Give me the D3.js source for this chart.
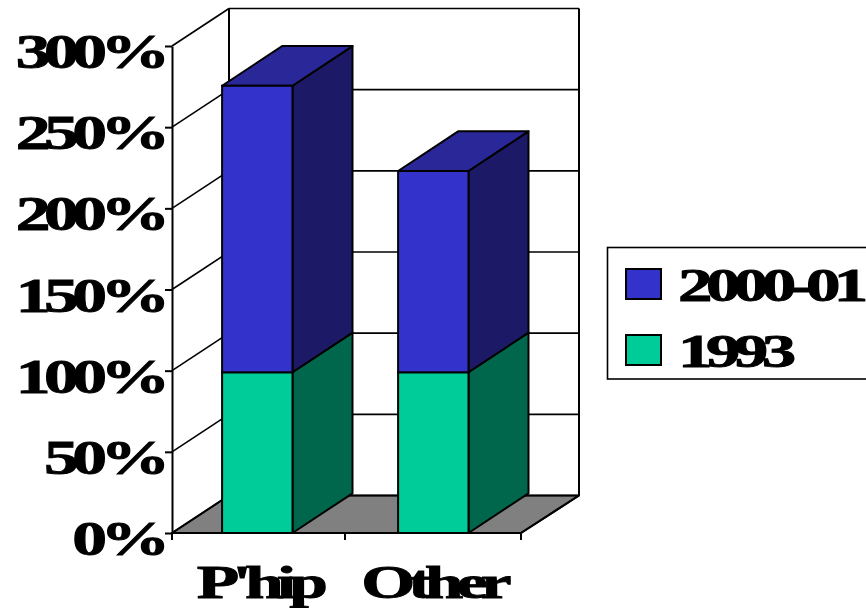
<!DOCTYPE html>
<html>
<head>
<meta charset="utf-8">
<script src="https://cdn.jsdelivr.net/npm/d3@7"></script>
<style>
html,body{margin:0;padding:0;background:#fff;overflow:hidden}
svg{display:block}
text{font-family:"Liberation Serif",serif;font-weight:bold;fill:#000;stroke:#000;stroke-width:.9px}
</style>
</head>
<body>
<svg id="chart" width="866" height="608"></svg>
<script>
const categories = ["P'hip", "Other"];
const seriesNames = ["1993", "2000-01"];
const values1993 = [99, 99];
const values2000 = [176.5, 124];
const yTicks = [0, 50, 100, 150, 200, 250, 300];
const legendOrder = ["2000-01", "1993"];

const faceColors = {"1993": "#00cc99", "2000-01": "#3333cc"};
const sideColors = {"1993": "#00664c", "2000-01": "#1c1a66"};
const topColors = {"1993": "#00a67c", "2000-01": "#2a2899"};

const svg = d3.select("#chart");
const y = d3.scaleLinear().domain([0, 300]).range([533, 46]);
const x = d3.scaleBand().domain(categories).range([169.5, 521.5]).paddingInner(0.6).paddingOuter(0.3);

// Depth of the plot box and of the bars, in screen pixels
const wallDx = 57, wallDy = -37.5, barDx = 60, barDy = -39.7;
const x0 = 172, x1 = 521;
const poly = pts => pts.map(p => p.join(",")).join(" ");
const stroke = {stroke: "#000", "stroke-width": 2};
const applyAttrs = (sel, attrs) => { Object.entries(attrs).forEach(([k, v]) => sel.attr(k, v)); return sel; };

// Floor
applyAttrs(svg.append("polygon").attr("points", poly([
  [x0, y(0)], [x0 + wallDx, y(0) + wallDy], [x1 + wallDx + 1, y(0) + wallDy], [x1, y(0)]
])).attr("fill", "#808080"), stroke).attr("stroke-linejoin", "round");

// Back wall with its gridlines, and the matching lines across the left wall
const walls = svg.append("g").attr("fill", "none");
yTicks.forEach(t => {
  applyAttrs(walls.append("line").attr("x1", x0 + wallDx).attr("x2", x1 + wallDx + 1)
    .attr("y1", y(t) + wallDy).attr("y2", y(t) + wallDy), stroke).attr("stroke-width", 1.6);
  applyAttrs(walls.append("line").attr("x1", x0).attr("x2", x0 + wallDx)
    .attr("y1", y(t)).attr("y2", y(t) + wallDy), stroke).attr("stroke-width", 1.6);
});
applyAttrs(walls.append("line").attr("x1", x0 + wallDx).attr("x2", x0 + wallDx)
  .attr("y1", y(300) + wallDy).attr("y2", y(0) + wallDy), stroke);
applyAttrs(walls.append("line").attr("x1", x1 + wallDx + 1).attr("x2", x1 + wallDx + 1)
  .attr("y1", y(300) + wallDy).attr("y2", y(0) + wallDy), stroke);
applyAttrs(walls.append("line").attr("x1", x1).attr("x2", x1 + wallDx + 1)
  .attr("y1", y(0)).attr("y2", y(0) + wallDy), stroke);

// Stacked bars, bottom segment first
const stacked = d3.stack().keys(seriesNames)(categories.map((c, i) => ({
  "1993": values1993[i], "2000-01": values2000[i]
})));
const bars = svg.append("g");
stacked.forEach(layer => {
  const name = layer.key;
  layer.forEach((d, i) => {
    const l = x(categories[i]) - 0.2, r = l + x.bandwidth();
    const b = y(d[0]), t = y(d[1]);
    applyAttrs(bars.append("polygon").attr("points", poly([
      [r, b], [r + barDx, b + barDy], [r + barDx, t + barDy], [r, t]
    ])).attr("fill", sideColors[name]), stroke).attr("stroke-linejoin", "round");
    if (name === seriesNames[seriesNames.length - 1]) {
      applyAttrs(bars.append("polygon").attr("points", poly([
        [l, t], [l + barDx, t + barDy], [r + barDx, t + barDy], [r, t]
      ])).attr("fill", topColors[name]), stroke).attr("stroke-linejoin", "round");
    }
    applyAttrs(bars.append("rect").attr("x", l).attr("y", t)
      .attr("width", x.bandwidth()).attr("height", b - t).attr("fill", faceColors[name]), stroke);
  });
});

// Value axis; glyphs are stretched wide and set tight
const yAxis = d3.axisLeft(y).tickValues(yTicks).tickFormat(d => d + "%").tickSize(7).tickSizeOuter(0);
const yG = svg.append("g").attr("transform", `translate(${x0},0)`).call(yAxis);
yG.select(".domain").attr("stroke", "#000").attr("stroke-width", 2);
yG.selectAll(".tick line").attr("stroke", "#000").attr("stroke-width", 2);
yG.selectAll(".tick text")
  .attr("text-anchor", "end").attr("x", 0).attr("y", 0).attr("dy", null)
  .attr("font-size", 49).attr("letter-spacing", -4.6)
  .attr("transform", "translate(-8.5,21.5) scale(1.42,1)");

// Category axis with ticks at the band edges
const edges = [x0, 345, x1];
edges.forEach(e => {
  svg.append("line").attr("x1", e).attr("x2", e).attr("y1", y(0)).attr("y2", y(0) + 7)
    .attr("stroke", "#000").attr("stroke-width", 2);
});
svg.append("line").attr("x1", x0).attr("x2", x1).attr("y1", y(0)).attr("y2", y(0))
  .attr("stroke", "#000").attr("stroke-width", 2);
const labelCentres = [259, 433];
categories.forEach((c, i) => {
  svg.append("text").text(c).attr("text-anchor", "middle")
    .attr("font-size", 47).attr("letter-spacing", -4.6)
    .attr("transform", `translate(${labelCentres[i]},598) scale(1.48,1)`);
});

// Legend box runs off the right side of the page
svg.append("rect").attr("x", 607.5).attr("y", 247.5).attr("width", 280).attr("height", 131.5)
  .attr("fill", "#fff").attr("stroke", "#000").attr("stroke-width", 1.6);
const legendY = d3.scalePoint().domain(legendOrder).range([284, 350]);
legendOrder.forEach(name => {
  applyAttrs(svg.append("rect").attr("x", 626).attr("y", legendY(name) - 15)
    .attr("width", 35).attr("height", 30).attr("fill", faceColors[name]), stroke);
  svg.append("text").text(name).attr("font-size", 46).attr("letter-spacing", -4.4)
    .attr("transform", `translate(678,${legendY(name) + 17}) scale(1.5,1)`);
});
</script>
</body>
</html>
